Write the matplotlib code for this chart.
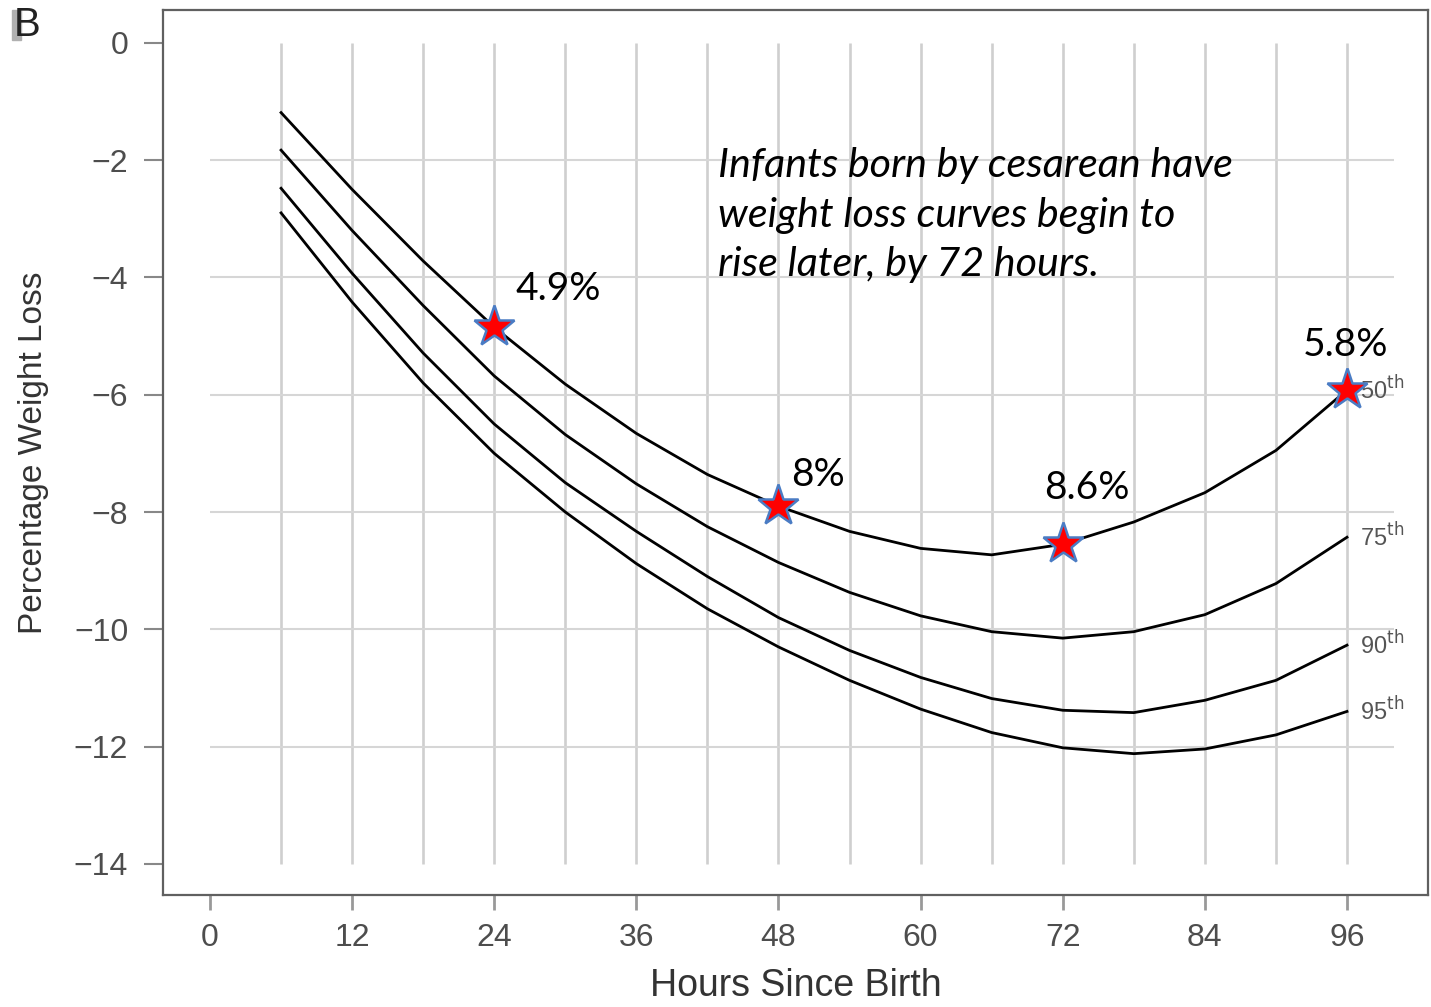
import numpy as np
import matplotlib
matplotlib.use("Agg")
import matplotlib.pyplot as plt
from matplotlib.patches import Rectangle

# percentile curves (percent weight change vs hours)
hours = [6, 12, 18, 24, 30, 36, 42, 48, 54, 60, 66, 72, 78, 84, 90, 96]
p50 = [-1.19, -2.5, -3.72, -4.85, -5.82, -6.66, -7.36, -7.9, -8.33, -8.62,
       -8.73, -8.55, -8.17, -7.67, -6.95, -5.92]
p75 = [-1.83, -3.2, -4.48, -5.68, -6.68, -7.52, -8.25, -8.86, -9.37, -9.77,
       -10.04, -10.15, -10.04, -9.75, -9.22, -8.43]
p90 = [-2.48, -3.93, -5.29, -6.5, -7.5, -8.33, -9.1, -9.8, -10.36, -10.82,
       -11.18, -11.38, -11.42, -11.21, -10.87, -10.27]
p95 = [-2.9, -4.42, -5.8, -7.0, -8.0, -8.88, -9.65, -10.3, -10.87, -11.36,
       -11.76, -12.02, -12.12, -12.04, -11.8, -11.4]
curve_names = ["50", "75", "90", "95"]

# highlighted points on the 50th percentile curve
star_hours = [24, 48, 72, 96]
star_values = [-4.85, -7.9, -8.55, -5.92]
star_labels = ["4.9%", "8%", "8.6%", "5.8%"]
label_pos = [(25.8, -4.2), (49.1, -7.37), (70.4, -7.59), (92.3, -5.15)]

note = "Infants born by cesarean have\nweight loss curves begin to\nrise later, by 72 hours."

x_ticks = [0, 12, 24, 36, 48, 60, 72, 84, 96]
y_ticks = [0, -2, -4, -6, -8, -10, -12, -14]
grid_hours = list(range(6, 97, 6))
grid_levels = [-2, -4, -6, -8, -10, -12]

plt.rcParams["font.family"] = ["Liberation Sans", "DejaVu Sans"]
plt.rcParams["axes.unicode_minus"] = True

fig = plt.figure(figsize=(14.31, 10.07), dpi=100)
ax = fig.add_axes([0.1139, 0.1112, 0.8840, 0.8789])

ax.vlines(grid_hours, -14, 0, color="#cfcfcf", lw=1.9, zorder=1)
ax.hlines(grid_levels, 0, 100, color="#d6d6d6", lw=1.5, zorder=1)

for vals, name in zip([p50, p75, p90, p95], curve_names):
    ax.plot(hours, vals, color="black", lw=2.0, zorder=3)
    ax.text(hours[-1] + 1.1, vals[-1], name + r"$^{\mathrm{th}}$",
            fontsize=17, color="#555555", ha="left", va="center")

ax.plot(star_hours, star_values, linestyle="none", marker="*", markersize=31,
        markerfacecolor="#ff0000", markeredgecolor="#4a7cc4",
        markeredgewidth=1.8, zorder=5)

for (lx, ly), lab in zip(label_pos, star_labels):
    ax.text(lx, ly, lab, fontsize=28, family=["Lato", "DejaVu Sans"],
            ha="left", va="center", color="black", zorder=6)

ax.text(42.9, -1.78, note, fontsize=29.7, family=["Lato", "DejaVu Sans"],
        style="italic", ha="left", va="top", linespacing=1.42, zorder=6)

ax.set_xlim(-3.97, 102.84)
ax.set_ylim(-14.53, 0.56)
ax.set_xticks(x_ticks)
ax.set_yticks(y_ticks)
ax.tick_params(axis="y", length=14, width=1.5, color="#888888", pad=11,
               labelsize=23, labelcolor="#4d4d4d")
ax.tick_params(axis="x", length=11, width=2.0, color="#999999", pad=9,
               labelsize=23, labelcolor="#4d4d4d")
for sp in ax.spines.values():
    sp.set_color("#606060")
    sp.set_linewidth(1.6)

ax.set_xlabel("Hours Since Birth", fontsize=27, color="#333333", labelpad=11)
ax.set_ylabel("Percentage Weight Loss", fontsize=24, color="#333333", labelpad=18)

# panel letter with its grey tab
fig.patches.append(Rectangle((12 / 1431, 1 - 40 / 1007), 9 / 1431, 30 / 1007,
                             transform=fig.transFigure, color="#b0b0b0", zorder=0))
fig.text(14 / 1431, 1 - 25 / 1007, "B", fontsize=29, va="center", ha="left",
         color="#222222")

fig.savefig("out.png", dpi=100)
